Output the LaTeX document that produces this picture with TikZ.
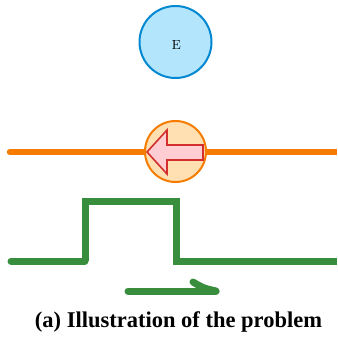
\documentclass[tikz,border=0pt]{standalone}
\usepackage{fontspec}
\usepackage{graphicx}
\newfontfamily\capfont{Liberation Serif}
\definecolor{eblue}{HTML}{0288D1}
\definecolor{efill}{HTML}{B3E5FC}
\definecolor{orng}{HTML}{F57C00}
\definecolor{ofill}{HTML}{FFE0B2}
\definecolor{pinkf}{HTML}{FFCDD2}
\definecolor{redb}{HTML}{D32F2F}
\definecolor{grn}{HTML}{388E3C}
\begin{document}
\begin{tikzpicture}[x=1pt,y=-1pt,
  ball/.style={circle,inner sep=0pt,line width=2pt},
  wire/.style={line width=6.5pt},
  wave/.style={line width=7pt,draw=grn}]
\useasboundingbox (0,0) rectangle (337,339);
% E circle
\node[ball,draw=eblue,fill=efill,minimum size=72pt] (E) at (175.5,42) {};
\node[inner sep=0pt] (Etext) at (176.5,45.5) {\resizebox{!}{9pt}{E}};
% orange line
\coordinate (oL) at (10,152);
\coordinate (oR) at (337,152);
\draw[wire,draw=orng,line cap=round] (oL) -- (175,152);
\draw[wire,draw=orng] (175,152) -- (oR);
% orange circle
\node[ball,draw=orng,fill=ofill,minimum size=61pt] (P) at (175.5,151.5) {};
% block arrow pointing left
\draw[line width=1.6pt,draw=redb,fill=pinkf,line join=miter]
  (147,152) -- (167,130) -- (167,145) -- (203,145) -- (203,160) -- (167,160) -- (167,174) -- cycle;
% green wave
\coordinate (gL) at (11,261);
\coordinate (gR) at (337,261);
\draw[wave,line cap=round] (gL) -- (85,261);
\draw[wave,line join=miter] (85,261) -- (85,201) -- (176,201) -- (176,261) -- (gR);
% green arrow
\coordinate (aS) at (128,291);
\coordinate (aT) at (216,291);
\draw[wave,line cap=round] (aS) -- (aT);
\draw[wave,line cap=round] (193,282) .. controls (203,288) .. (aT);
% caption
\node (cap) at (178.5,322) {\resizebox{287pt}{!}{\capfont\bfseries (a) Illustration of the problem}};
\end{tikzpicture}
\end{document}
